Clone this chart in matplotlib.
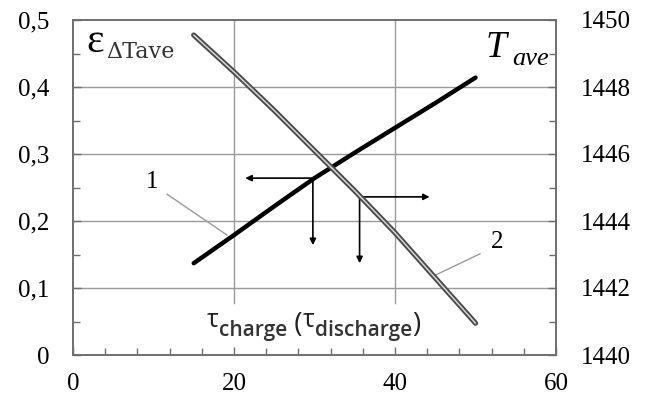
import matplotlib
matplotlib.use("Agg")
import matplotlib.pyplot as plt
from matplotlib.ticker import MultipleLocator, FixedLocator, FuncFormatter
from matplotlib.transforms import IdentityTransform

# ---- data ----
tau = [15, 20, 25, 30, 35, 40, 45, 50]
eps_dT = [0.137, 0.179, 0.222, 0.264, 0.302, 0.339, 0.376, 0.414]      # curve 1 (left axis)
T_ave = [1449.55, 1448.45, 1447.3, 1446.1, 1444.9, 1443.65, 1442.3, 1440.95]  # curve 2 (right axis)

left_ticks = [0, 0.1, 0.2, 0.3, 0.4, 0.5]
right_ticks = [1440, 1442, 1444, 1446, 1448, 1450]
x_ticks = [0, 20, 40, 60]

# reading arrows: start point on curve -> horizontal end x, vertical end y (left-axis units)
arrow1 = dict(x=29.8, y=0.264, x_end=21.4, y_end=0.164)
arrow2 = dict(x=35.6, y=0.236, x_end=44.3, y_end=0.137)

W, H = 651, 396
fig = plt.figure(figsize=(W / 100, H / 100), dpi=100)
ax = fig.add_axes([73 / W, 1 - 355 / H, (556 - 73) / W, (355 - 20) / H])
ax2 = ax.twinx()

serif = "Liberation Serif"
spine_c = "#6e6e6e"
grid_c = "#9a9a9a"

ax.set_xlim(0, 60)
ax.set_ylim(0, 0.5)
ax2.set_ylim(1440, 1450)

# grid
for v in left_ticks[1:-1]:
    ax.axhline(v, color=grid_c, lw=1.0, zorder=1)
for v in x_ticks[1:-1]:
    ax.axvline(v, ymin=0.155, ymax=1, color=grid_c, lw=1.0, zorder=1)

# curve 1
ax.plot(tau, eps_dT, color="black", lw=3.2, solid_capstyle="round", zorder=4)
# curve 2 (double line)
ax2.plot(tau, T_ave, color="#4a4a4a", lw=3.8, solid_capstyle="round",
         solid_joinstyle="round", zorder=4)
ax2.plot(tau, T_ave, color="#d6d6d6", lw=1.1, solid_capstyle="round",
         solid_joinstyle="round", zorder=5)

# arrows
ap = dict(arrowstyle="-|>", color="black", lw=1.2, mutation_scale=9, shrinkA=0, shrinkB=0)
for a in (arrow1, arrow2):
    ax.annotate("", xy=(a["x_end"], a["y"]), xytext=(a["x"], a["y"]), arrowprops=ap, zorder=6)
    ax.annotate("", xy=(a["x"], a["y_end"]), xytext=(a["x"], a["y"]), arrowprops=ap, zorder=6)

# leader lines and labels
ax.plot([11.68, 19.13], [0.240, 0.179], color="#9a9a9a", lw=1.0, zorder=3)
ax.text(9.81, 0.258, "1", fontsize=18, family=serif, ha="center", va="center")
ax.plot([50.56, 44.97], [0.151, 0.119], color="#9a9a9a", lw=1.0, zorder=3)
ax.text(52.67, 0.169, "2", fontsize=18, family=serif, ha="center", va="center")

# ticks
fmt = FuncFormatter(lambda v, p: ("%g" % v).replace(".", ","))
ax.yaxis.set_major_locator(FixedLocator(left_ticks))
ax.yaxis.set_major_formatter(fmt)
ax.yaxis.set_minor_locator(MultipleLocator(0.05))
ax.xaxis.set_major_locator(FixedLocator(x_ticks))
ax.xaxis.set_minor_locator(MultipleLocator(4))
ax2.yaxis.set_major_locator(FixedLocator(right_ticks))
ax2.yaxis.set_minor_locator(MultipleLocator(1))

for a_ in (ax, ax2):
    a_.tick_params(which="both", direction="in", color=spine_c, width=1.0)
    a_.tick_params(which="major", length=6, labelsize=18)
    a_.tick_params(which="minor", length=5)
    for s in a_.spines.values():
        s.set_color(spine_c)
        s.set_linewidth(1.2)
ax.tick_params(axis="y", which="both", right=False, pad=17)
ax.tick_params(axis="x", which="both", top=False, pad=13)
ax2.tick_params(axis="y", which="both", left=False, pad=18)
for lab in ax.get_xticklabels() + ax.get_yticklabels() + ax2.get_yticklabels():
    lab.set_family(serif)

# ---- text labels placed in pixel coordinates ----
renderer = fig.canvas.get_renderer()
ident = IdentityTransform()


def put(x, base, s, **kw):
    return fig.text(x, H - base, s, transform=ident, va="baseline", ha="left", **kw)


def seq(x, pieces):
    """pieces: (text, baseline_px_from_top, kwargs); placed one after another"""
    for s, by, kw in pieces:
        t = put(x, by, s, **kw)
        x = t.get_window_extent(renderer).x1


put(86, 52, "ε", fontsize=30, family=serif)
put(106, 58, "ΔTave", fontsize=16, family="DejaVu Serif", color="#333333")
put(486, 57, "T", fontsize=27, family=serif, style="italic")
put(512, 65, "ave", fontsize=19, family=serif, style="italic")

sub = dict(fontsize=15, family="Open Sans", weight="semibold", color="#333333")
big = dict(fontsize=18, family="Open Sans", color="#222222")
seq(207, [("τ", 327, big),
          ("charge", 336, sub),
          (" (", 332, dict(fontsize=20, family="Open Sans", color="#222222")),
          ("τ", 327, big),
          ("discharge", 336, sub),
          (")", 332, dict(fontsize=20, family="Open Sans", color="#222222"))])

fig.savefig("out.png", dpi=100)
